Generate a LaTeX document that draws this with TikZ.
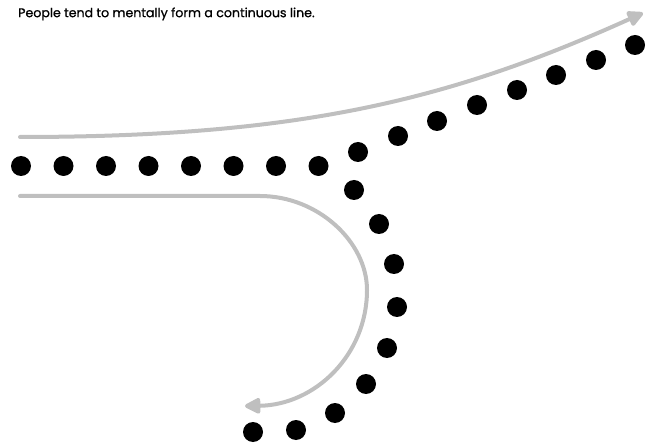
\documentclass[tikz,border=0pt]{standalone}
\usepackage{fontspec}
\setmainfont{Poppins}[FakeBold=0.8]
\usetikzlibrary{arrows.meta}

\tikzset{
  dot/.style={circle,fill=black,inner sep=0pt,minimum size=20pt},
  trail/.style={draw=black!25,line width=4pt,line cap=round,
    -{Triangle[length=18pt,width=17pt,round]}}
}

\begin{document}
\begin{tikzpicture}[x=1pt,y=-1pt]
		\useasboundingbox (0,0) rectangle (656,446);
		\node[anchor=west,inner sep=0pt,font=\fontsize{12.6}{14}\selectfont] (title) at (18,14) {People tend to mentally form a continuous line.};
		% the row
		\foreach \i in {0,...,7} {
			\node[dot] (row\i) at (21+42.5*\i,166) {};
		}
		% upper branch
		\foreach \x/\y [count=\i] in {358/152,398/136,437/121,477/105,517/90,556/75,596/60,635/45} {
			\node[dot] (up\i) at (\x,\y) {};
		}
		% lower branch
		\foreach \x/\y [count=\i] in {354/190,379/224,394/264,397/307,387/348,366/384,335/413,296/430,253/432} {
			\node[dot] (down\i) at (\x,\y) {};
		}
		% the lines people see
		\coordinate (upstart) at (20,137);
		\coordinate (upend) at (643,13);
		\coordinate (downstart) at (20,196);
		\coordinate (bend) at (260,196);
		\coordinate (turn) at (367,290);
		\coordinate (downend) at (245,406);
		\draw[trail] (upstart) .. controls (300,137) and (450,100) .. (upend);
		\draw[trail] (downstart) -- (bend) .. controls (318,196) and (367,242) .. (turn)
			.. controls (367,355) and (315,405) .. (downend);
\end{tikzpicture}
\end{document}
